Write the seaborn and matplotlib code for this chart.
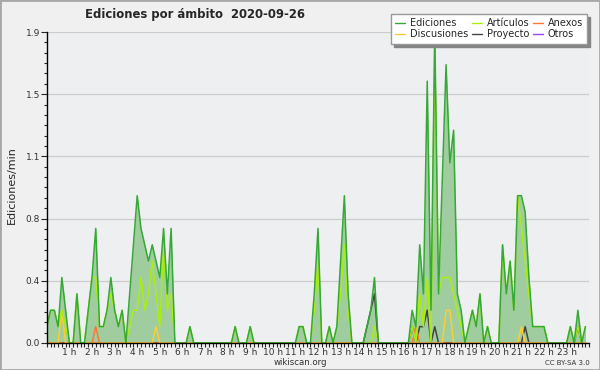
import numpy as np
import pandas as pd
import matplotlib
matplotlib.use("Agg")
import matplotlib.pyplot as plt
import seaborn as sns
from matplotlib.patches import Rectangle

# edits per minute, one value every 10 minutes (6 per hour)
ediciones = [
    0.1, 0.2, 0.2, 0.1, 0.4, 0.2,   # 0h
    0.0, 0.0, 0.3, 0.0, 0.0, 0.2,   # 1h
    0.4, 0.7, 0.1, 0.1, 0.2, 0.4,   # 2h
    0.2, 0.1, 0.2, 0.0, 0.3, 0.6,   # 3h
    0.9, 0.7, 0.6, 0.5, 0.6, 0.5,   # 4h
    0.4, 0.7, 0.3, 0.7, 0.0, 0.0,   # 5h
    0.0, 0.0, 0.1, 0.0, 0.0, 0.0,   # 6h
    0.0, 0.0, 0.0, 0.0, 0.0, 0.0,   # 7h
    0.0, 0.0, 0.1, 0.0, 0.0, 0.0,   # 8h
    0.1, 0.0, 0.0, 0.0, 0.0, 0.0,   # 9h
    0.0, 0.0, 0.0, 0.0, 0.0, 0.0,   # 10h
    0.0, 0.1, 0.1, 0.0, 0.0, 0.3,   # 11h
    0.7, 0.0, 0.0, 0.1, 0.0, 0.1,   # 12h
    0.5, 0.9, 0.3, 0.0, 0.0, 0.0,   # 13h
    0.0, 0.1, 0.2, 0.4, 0.0, 0.0,   # 14h
    0.0, 0.0, 0.0, 0.0, 0.0, 0.0,   # 15h
    0.0, 0.2, 0.1, 0.6, 0.3, 1.6,   # 16h
    0.2, 1.9, 0.3, 1.0, 1.7, 1.1,   # 17h
    1.3, 0.3, 0.2, 0.0, 0.1, 0.2,   # 18h
    0.1, 0.3, 0.0, 0.1, 0.0, 0.0,   # 19h
    0.0, 0.6, 0.3, 0.5, 0.2, 0.9,   # 20h
    0.9, 0.8, 0.4, 0.1, 0.1, 0.1,   # 21h
    0.1, 0.0, 0.0, 0.0, 0.0, 0.0,   # 22h
    0.0, 0.1, 0.0, 0.2, 0.0, 0.1,   # 23h
]
articulos = [
    0.1, 0.2, 0.2, 0.1, 0.2, 0.1,
    0.0, 0.0, 0.3, 0.0, 0.0, 0.2,
    0.4, 0.4, 0.1, 0.1, 0.2, 0.3,
    0.2, 0.1, 0.2, 0.0, 0.1, 0.2,
    0.2, 0.4, 0.2, 0.3, 0.5, 0.3,
    0.1, 0.6, 0.2, 0.3, 0.0, 0.0,
    0.0, 0.0, 0.1, 0.0, 0.0, 0.0,
    0.0, 0.0, 0.0, 0.0, 0.0, 0.0,
    0.0, 0.0, 0.1, 0.0, 0.0, 0.0,
    0.1, 0.0, 0.0, 0.0, 0.0, 0.0,
    0.0, 0.0, 0.0, 0.0, 0.0, 0.0,
    0.0, 0.1, 0.1, 0.0, 0.0, 0.2,
    0.5, 0.0, 0.0, 0.1, 0.0, 0.1,
    0.3, 0.6, 0.2, 0.0, 0.0, 0.0,
    0.0, 0.0, 0.0, 0.1, 0.0, 0.0,
    0.0, 0.0, 0.0, 0.0, 0.0, 0.0,
    0.0, 0.1, 0.0, 0.3, 0.1, 0.4,
    0.0, 1.8, 0.3, 0.4, 0.4, 0.4,
    0.3, 0.2, 0.1, 0.0, 0.1, 0.2,
    0.1, 0.3, 0.0, 0.1, 0.0, 0.0,
    0.0, 0.6, 0.3, 0.5, 0.2, 0.9,
    0.7, 0.5, 0.3, 0.1, 0.1, 0.1,
    0.1, 0.0, 0.0, 0.0, 0.0, 0.0,
    0.0, 0.1, 0.0, 0.1, 0.0, 0.1,
]
# sparse series: {slot index: value}
discusiones_pts = {4: 0.2, 29: 0.1, 106: 0.2, 107: 0.2, 126: 0.1}
anexos_pts = {13: 0.1, 98: 0.1}
proyecto_pts = {85: 0.1, 86: 0.2, 87: 0.3, 97: 0.1, 99: 0.1, 100: 0.1,
                101: 0.2, 103: 0.1, 127: 0.1, 141: 0.1}
otros_pts = {}

n = len(ediciones)
hours = np.arange(n) / 6.0


def dense(pts):
    vals = np.zeros(n)
    for k, v in pts.items():
        vals[k] = v
    return vals


df = pd.DataFrame({
    "hora": hours,
    "Ediciones": ediciones,
    "Artículos": articulos,
    "Discusiones": dense(discusiones_pts),
    "Anexos": dense(anexos_pts),
    "Proyecto": dense(proyecto_pts),
    "Otros": dense(otros_pts),
})

colors = {
    "Ediciones": "#36a836",
    "Artículos": "#aaee11",
    "Discusiones": "#ffcc33",
    "Anexos": "#ff7733",
    "Proyecto": "#444444",
    "Otros": "#9944ee",
}

sns.set_style("white")
plt.rcParams["font.family"] = ["DejaVu Sans"]

fig = plt.figure(figsize=(6, 3.7), dpi=100, facecolor="#f0f0f0")
ax = fig.add_axes([0.078, 0.073, 0.904, 0.8405])
ax.set_facecolor("#eeeff1")

ax.fill_between(df["hora"], df["Ediciones"], color="#9fcd9f", lw=0, zorder=1)
for name in ["Otros", "Proyecto", "Anexos", "Discusiones", "Artículos", "Ediciones"]:
    sns.lineplot(data=df, x="hora", y=name, color=colors[name], lw=1.1,
                 ax=ax, zorder=3, label=name)
ax.get_legend().remove()

ax.set_xlim(0, 24)
ax.set_ylim(0, 1.9)
yt = np.linspace(0, 1.9, 6)
ax.set_yticks(yt)
ax.set_yticklabels([f"{v:.1f}" for v in yt])
ax.set_yticks(np.linspace(0, 1.9, 31), minor=True)
ax.set_xticks(np.arange(1, 24))
ax.set_xticklabels([f"{h} h" for h in range(1, 24)])
ax.set_xticks(np.arange(0, 24.01, 1 / 6), minor=True)
ax.grid(axis="y", color="#cccccc", lw=0.9, zorder=0)
ax.set_axisbelow(True)
ax.tick_params(axis="y", which="major", length=4, width=0.8, labelsize=6.5,
               labelcolor="#333333", pad=1, direction="out", left=True)
ax.tick_params(axis="y", which="minor", length=2.5, width=0.8, left=True)
ax.tick_params(axis="x", which="both", length=3, width=0.8, labelsize=6.5,
               labelcolor="#333333", pad=0.5, direction="out", bottom=True)
for s in ["top", "right"]:
    ax.spines[s].set_visible(False)
for s in ["left", "bottom"]:
    ax.spines[s].set_color("black")
    ax.spines[s].set_linewidth(1)
    ax.spines[s].set_zorder(5)
ax.set_xlabel("")
ax.set_ylabel("")

fig.text(0.02, 0.5, "Ediciones/min", rotation=90, ha="center", va="center",
         fontsize=8)
fig.text(0.142, 0.962, "Ediciones por ámbito  2020-09-26", ha="left",
         va="center", fontsize=8.4, fontweight="bold")
fig.text(0.5, 0.019, "wikiscan.org", ha="center", va="center", fontsize=6.2,
         color="#333333")
fig.text(0.983, 0.019, "CC BY-SA 3.0", ha="right", va="center", fontsize=5,
         color="#333333")

handles, labels = ax.get_legend_handles_labels()
order = ["Ediciones", "Discusiones", "Artículos", "Proyecto", "Anexos", "Otros"]
hmap = dict(zip(labels, handles))
leg = fig.legend([hmap[k] for k in order], order, ncol=3, loc="upper right",
                 bbox_to_anchor=(0.987, 0.975), fontsize=7, frameon=True,
                 fancybox=False, handlelength=1.0, handletextpad=0.5,
                 columnspacing=0.4, labelspacing=0.1, borderpad=0.45,
                 shadow={"color": "#858585", "alpha": 1.0})
leg.get_frame().set_edgecolor("#999999")
leg.get_frame().set_linewidth(1.0)
leg.get_frame().set_facecolor("white")
for line in leg.get_lines():
    line.set_linewidth(1.0)

fig.patches.append(Rectangle((0, 0), 1, 1, transform=fig.transFigure,
                             fill=False, edgecolor="#a8a8a8", lw=2))

fig.savefig("out.png", dpi=100, facecolor=fig.get_facecolor())
